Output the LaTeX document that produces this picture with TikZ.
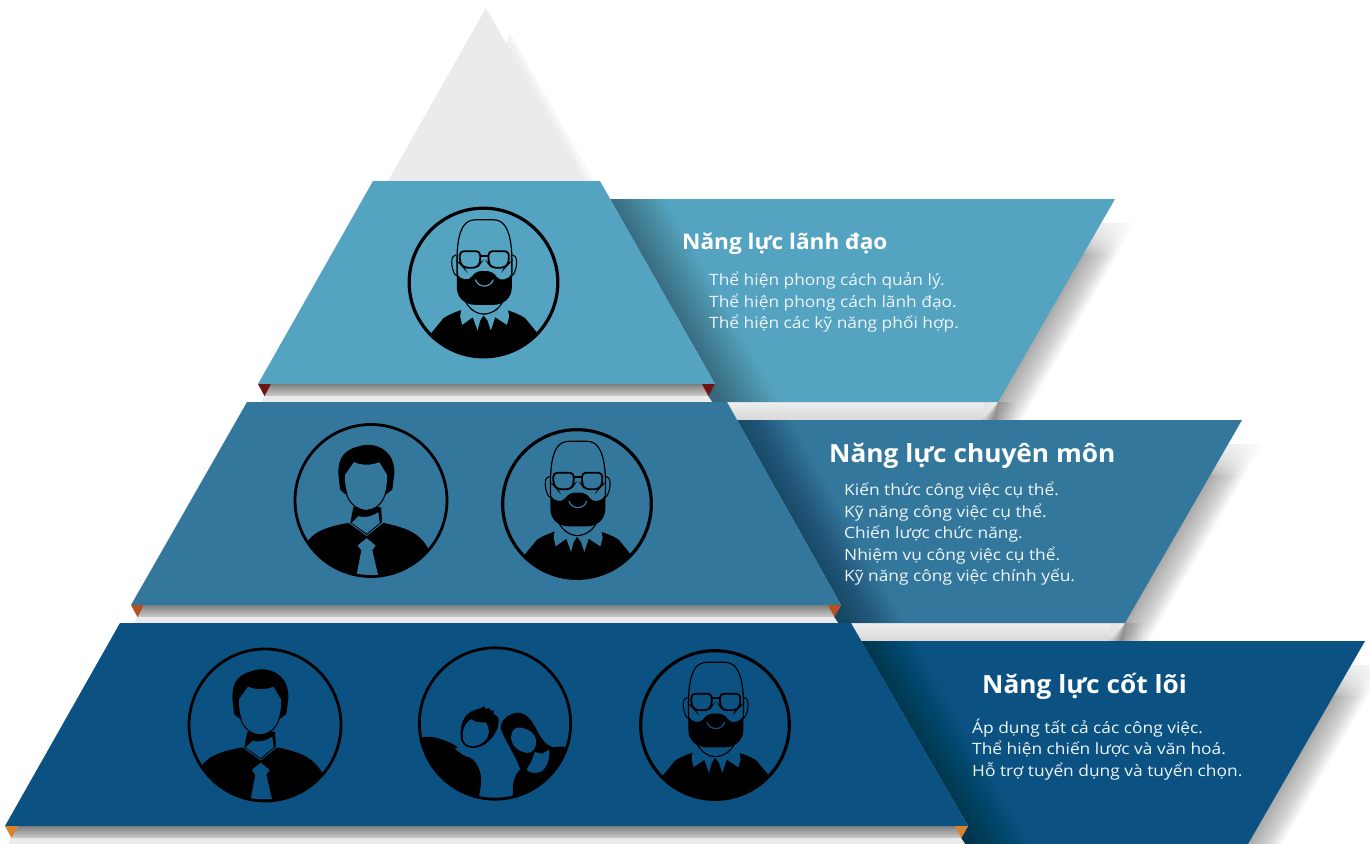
\documentclass[tikz,border=0pt]{standalone}
\usepackage{fontspec}
\setmainfont{Open Sans}[FakeStretch=1.113]
\newfontfamily\titlefont{Open Sans}[FakeStretch=1.05]
\definecolor{cA}{HTML}{54A3C1}
\definecolor{cB}{HTML}{33789C}
\definecolor{cC}{HTML}{0B5282}
\definecolor{triA}{HTML}{6F1414}
\definecolor{triB}{HTML}{B5501F}
\definecolor{triC}{HTML}{D9822B}
\definecolor{txt}{HTML}{EEF5F9}
\tikzset{
  titletext/.style={anchor=base west,inner sep=0pt,text=white},
  bodytext/.style={anchor=base west,inner sep=0pt,text=txt,font=\fontsize{15.6}{18}\selectfont},
}
\newcommand\tierset[8]{%
 % #1 xtl #2 xtr #3 xbl #4 xbr #5 ytop #6 colour #7 notch colour #8 panel right top x
 \pgfmathsetmacro\yb{#5+203}
 \pgfmathsetmacro\ytip{\yb+12}
 \pgfmathsetmacro\yend{\yb+18}
 \pgfmathsetmacro\ypt{#5+18}
 \pgfmathsetmacro\xpt{#2+10}
 \pgfmathsetmacro\ypb{\ypt+203}
 \pgfmathsetmacro\xprb{#8-117}
 % band under the panel
 \pgfmathsetmacro\bandr{\xprb+6}
 \shade[top color=black!7,bottom color=black!15] (\xprb-300,\ypb) rectangle (\bandr-20,\ypb+18);
 \shade[left color=black!11,right color=white] (\bandr-20,\ypb) rectangle (\bandr+12,\ypb+18);
 % drop shadow to the right of the panel
 \begin{scope}
  \clip (#8-200,\ypt+24) rectangle (#8+60,\ypb+18);
  \foreach \d in {0,1,...,35}{
   \fill[black,opacity=.0105] (#8-80,\ypt+24) -- (#8-14+\d,\ypt+24) -- (#8-127.5+\d,\ypt+221) -- (#8-117-\d/2,\ypt+221) -- (#8-117,\ypt+203) -- cycle;
  }
  \foreach \d in {1,2,...,12}{
   \fill[white,opacity=.13] (#8-80,\ypt+24) rectangle (#8+60,\ypt+24+2.6*\d);
  }
 \end{scope}
 % panel
 \fill[#6] (\xpt,\ypt) -- (#8,\ypt) -- (\xprb,\ypb) -- (#4-3,\ypb) -- (#4-7,\ytip) -- (#4,\yb) -- cycle;
 \begin{scope}
  \clip (\xpt,\ypt) -- (#8,\ypt) -- (\xprb,\ypb) -- (#4-3,\ypb) -- (#4-7,\ytip) -- (#4,\yb) -- cycle;
  \foreach \d in {2,4,...,60}{
   \fill[black,opacity=.0125] (\xpt-300,\ypt) -- (\xpt-6+\d,\ypt) -- (\xpt-6+\d+115,\ypt+203) -- (\xpt-300,\ypt+203) -- cycle;
  }
 \end{scope}
 % grey band under the tier
 \shade[top color=black!50,bottom color=black!20] (#3+13,\yb) -- (#4-7,\yb) -- (#4-7,\ytip) -- (#3+6,\ytip) -- cycle;
 \fill[black!8] (#3+6,\ytip) -- (#4-7,\ytip) -- (#4-3,\yend) -- (#3+3,\yend) -- cycle;
 % tier
 \fill[#6] (#1,#5) -- (#2,#5) -- (#4,\yb) -- (#3,\yb) -- cycle;
 % notches
 \fill[#7] (#3,\yb) -- (#3+13,\yb) -- (#3+6.5,\ytip) -- cycle;
 \fill[#7] (#4-13,\yb) -- (#4,\yb) -- (#4-6.5,\ytip) -- cycle;
}
\newcommand\baldman[3]{%
\begin{scope}[shift={(#1,#2)},x=.3333pt,y=-.3333pt,shift={(-250,-248)}]
 \begin{scope}
  \clip (250,248) circle (224);
  % body
  \fill[black] (85,410) -- (130,355) .. controls (150,342) and (170,335) .. (190,328) -- (310,328) .. controls (335,335) and (355,342) .. (375,355) -- (420,410) -- (420,500) -- (85,500) -- cycle;
 \end{scope}
 % ears
 \draw[black,line width=1.1pt] (168,165) .. controls (152,165) and (152,195) .. (160,215) .. controls (163,225) and (168,228) .. (172,228);
 \draw[black,line width=1.1pt] (336,165) .. controls (352,165) and (352,195) .. (344,215) .. controls (341,225) and (336,228) .. (332,228);
 % head
 \draw[black,line width=1.2pt] (171,230) .. controls (168,140) and (172,60) .. (225,60) -- (280,60) .. controls (332,60) and (338,140) .. (335,230);
 % collar
 \fill[#3] (186,305) .. controls (200,325) and (225,342) .. (250,342) .. controls (280,342) and (305,325) .. (318,305) -- (327,350) -- (320,375) -- (285,352) -- (272,392) -- (262,362) -- (250,346) -- (240,362) -- (232,392) -- (218,352) -- (186,375) -- (180,350) -- cycle;
 \fill[#3] (198,300) -- (305,300) -- (305,318) .. controls (285,335) and (270,341) .. (250,341) .. controls (230,341) and (212,330) .. (198,316) -- cycle;
 \draw[black,line width=1.1pt] (196,306) .. controls (210,330) and (232,343) .. (250,343) .. controls (270,343) and (295,330) .. (308,306);
 % beard
 \fill[black] (170,222) .. controls (180,240) and (205,245) .. (215,230) .. controls (225,215) and (240,212) .. (252,214) .. controls (268,212) and (282,218) .. (290,232) .. controls (300,245) and (325,240) .. (335,222) -- (335,262) .. controls (335,295) and (310,315) .. (280,315) -- (225,315) .. controls (195,315) and (170,295) .. (170,262) -- cycle;
 \draw[#3,line width=1.2pt,line cap=round] (226,240) .. controls (235,265) and (270,265) .. (279,240);
 % glasses
 \fill[#3] (178,155) rectangle (327,205);
 \draw[black,line width=1.8pt,rounded corners=4pt] (179,154) -- (240,154) -- (240,190) -- (230,204) -- (192,204) -- (179,190) -- cycle;
 \draw[black,line width=1.8pt,rounded corners=4pt] (326,154) -- (265,154) -- (265,190) -- (275,204) -- (313,204) -- (326,190) -- cycle;
 \draw[black,line width=1.8pt] (240,168) -- (265,168);
 \draw[black,line width=1.2pt] (171,230) -- (171,150) (335,230) -- (335,150);
 \draw[black,line width=3.2pt] (250,248) circle (223);
\end{scope}}
\newcommand\tieman[3]{%
\begin{scope}[shift={(#1,#2)},x=.3333pt,y=-.3333pt,shift={(-258,-255)}]
 \begin{scope}
  \clip (258,255) circle (228);
  \fill[black] (60,390) .. controls (80,350) and (120,335) .. (190,322) -- (245,362) -- (295,322) .. controls (370,338) and (410,355) .. (435,410) -- (435,500) -- (60,500) -- cycle;
 \end{scope}
 % tie
 \fill[#3] (245,368) -- (272,390) -- (262,404) -- (279,478) -- (215,478) -- (229,404) -- (218,390) -- cycle;
 % neck
 \fill[black] (205,275) -- (288,275) -- (291,320) -- (245,358) -- (196,322) -- cycle;
 \fill[#3] (220,302) .. controls (245,308) and (262,302) .. (280,290) -- (284,322) -- (245,354) -- (200,322) -- cycle;
 % hair
 \fill[black] (160,175) .. controls (160,125) and (175,100) .. (240,88) .. controls (290,85) and (330,115) .. (328,175) -- (322,222) -- (305,235) -- (180,235) -- (165,222) -- cycle;
 % face
 \fill[#3] (180,178) -- (207,140) .. controls (230,150) and (260,150) .. (283,140) -- (306,178) .. controls (308,240) and (285,282) .. (243,284) .. controls (205,282) and (178,240) .. (180,178) -- cycle;
 \draw[black,line width=1.1pt] (180,222) .. controls (190,262) and (212,282) .. (243,285) .. controls (275,282) and (296,262) .. (305,222);
 \draw[black,line width=2.8pt] (258,255) circle (228);
\end{scope}}
\newcommand\couple[3]{%
\begin{scope}[shift={(#1,#2)},x=.3333pt,y=-.3333pt,shift={(-255,-250)}]
 \begin{scope}
  \clip (255,250) circle (227);
  % his body
  \fill[black] (20,295) .. controls (60,282) and (95,295) .. (135,315) -- (178,350) .. controls (205,370) and (225,400) .. (205,475) -- (205,500) -- (20,500) -- cycle;
  % her body
  \fill[black] (310,480) .. controls (305,430) and (310,400) .. (345,375) -- (400,335) -- (430,322) .. controls (450,316) and (480,320) .. (500,330) -- (500,500) -- (310,500) -- cycle;
 \end{scope}
 % his neck
 \fill[#3] (135,325) -- (160,316) -- (180,325) -- (178,352) .. controls (165,348) and (150,340) .. (135,325) -- cycle;
 % his hair
 \fill[black] (152,285) .. controls (150,250) and (165,215) .. (200,208) -- (215,203) -- (222,198) -- (228,207) -- (238,203) -- (242,212) -- (252,210) -- (250,220) -- (265,232) .. controls (270,260) and (255,290) .. (225,312) .. controls (200,330) and (150,330) .. (152,285) -- cycle;
 \fill[#3] (158,285) .. controls (158,262) and (172,240) .. (185,237) .. controls (195,250) and (215,245) .. (228,247) .. controls (240,265) and (240,285) .. (225,302) .. controls (205,322) and (158,330) .. (158,285) -- cycle;
 % her hair
 \fill[black] (272,265) .. controls (270,240) and (300,215) .. (330,218) .. controls (365,225) and (375,265) .. (395,295) .. controls (405,310) and (418,318) .. (432,322) .. controls (415,330) and (400,338) .. (385,340) -- (350,385) -- (330,385) .. controls (315,345) and (295,315) .. (285,295) -- cycle;
 % her chest
 \fill[#3] (375,335) -- (395,342) -- (418,328) .. controls (420,365) and (405,398) .. (378,398) .. controls (365,398) and (355,395) .. (350,388) -- (365,362) -- cycle;
 % her face
 \fill[#3] (303,290) .. controls (305,270) and (315,260) .. (330,262) .. controls (350,265) and (375,275) .. (378,300) .. controls (380,325) and (368,340) .. (350,338) .. controls (325,335) and (303,315) .. (303,290) -- cycle;
 \draw[black,line width=2.8pt] (255,250) circle (227);
\end{scope}}
\begin{document}
\begin{tikzpicture}[x=1pt,y=-1pt]
\useasboundingbox (0,0) rectangle (1370,843);
\clip (0,0) rectangle (1370,843);
% apex
\fill[black!3] (510,33) -- (594,181) -- (450,181) -- cycle;
\fill[black!6] (509,37) -- (589,181) -- (450,181) -- cycle;
\fill[black!8] (486,8) -- (585,181) -- (388,181) -- cycle;
% tiers: upper tier first so that lower tiers cover its bands
\tierset{373}{600}{258}{715}{181}{cA}{triA}{1115}
\tierset{247}{727}{131}{841}{402}{cB}{triB}{1242}
\tierset{120}{851}{5}{968}{623}{cC}{triC}{1365}
% avatars
\baldman{483.5}{282.5}{cA}
\tieman{371}{500.5}{cB}
\baldman{577}{504}{cB}
\tieman{265}{725}{cC}
\couple{495}{723.5}{cC}
\baldman{715}{725}{cC}
% text
\node[titletext,font=\titlefont\bfseries\fontsize{21.5}{24}\selectfont] (t1) at (682,249) {Năng lực lãnh đạo};
\node[bodytext] (b11) at (709,285.5) {Thể hiện phong cách quản lý.};
\node[bodytext] (b12) at (709,307) {Thể hiện phong cách lãnh đạo.};
\node[bodytext] (b13) at (709,328.5) {Thể hiện các kỹ năng phối hợp.};
\node[titletext,font=\titlefont\bfseries\fontsize{25}{28}\selectfont] (t2) at (829,462) {Năng lực chuyên môn};
\node[bodytext] (b21) at (844,495.5) {Kiến thức công việc cụ thể.};
\node[bodytext] (b22) at (844,517) {Kỹ năng công việc cụ thể.};
\node[bodytext] (b23) at (844,538.5) {Chiến lược chức năng.};
\node[bodytext] (b24) at (844,560) {Nhiệm vụ công việc cụ thể.};
\node[bodytext] (b25) at (844,581.5) {Kỹ năng công việc chính yếu.};
\node[titletext,font=\titlefont\bfseries\fontsize{25}{28}\selectfont] (t3) at (982,693) {Năng lực cốt lõi};
\node[bodytext] (b31) at (972,733.5) {Áp dụng tất cả các công việc.};
\node[bodytext] (b32) at (972,754.5) {Thể hiện chiến lược và văn hoá.};
\node[bodytext] (b33) at (972,776) {Hỗ trợ tuyển dụng và tuyển chọn.};
\end{tikzpicture}
\end{document}
